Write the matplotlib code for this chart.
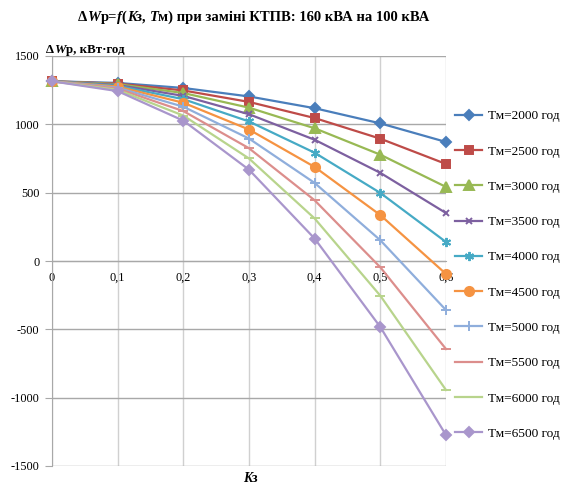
import matplotlib
matplotlib.use("Agg")
import matplotlib.pyplot as plt
from matplotlib.ticker import FixedLocator

# Load factor values and annual energy-loss difference for each Tm
kz = [0.0, 0.1, 0.2, 0.3, 0.4, 0.5, 0.6]
kz_labels = ["0", "0,1", "0,2", "0,3", "0,4", "0,5", "0,6"]

tm_2000 = [1315, 1303, 1266, 1204, 1118, 1007, 871]
tm_2500 = [1315, 1298, 1248, 1164, 1046, 895, 710]
tm_3000 = [1315, 1294, 1229, 1122, 971, 778, 542]
tm_3500 = [1315, 1288, 1208, 1074, 887, 645, 351]
tm_4000 = [1315, 1282, 1184, 1021, 792, 498, 139]
tm_4500 = [1315, 1276, 1158, 962, 688, 336, -95]
tm_5000 = [1315, 1268, 1129, 896, 571, 152, -359]
tm_5500 = [1315, 1261, 1097, 825, 444, -46, -644]
tm_6000 = [1315, 1252, 1064, 750, 311, -254, -944]
tm_6500 = [1315, 1243, 1027, 668, 164, -483, -1274]

series = [tm_2000, tm_2500, tm_3000, tm_3500, tm_4000,
          tm_4500, tm_5000, tm_5500, tm_6000, tm_6500]
labels = ["Тм=2000 год", "Тм=2500 год", "Тм=3000 год", "Тм=3500 год",
          "Тм=4000 год", "Тм=4500 год", "Тм=5000 год", "Тм=5500 год",
          "Тм=6000 год", "Тм=6500 год"]

colors = ["#4A7EBB", "#BE4B48", "#98B954", "#7D60A0", "#46AAC5",
          "#F59342", "#8FAEDC", "#DC8E8C", "#B8D48C", "#A996CC"]
markers = ["D", "s", "^", "x", (6, 2, 0), "o", "+", "_", "_", "D"]
msizes = [4.8, 6.2, 6.6, 4.8, 6.6, 6.6, 6.6, 6.6, 6.6, 5.2]

SERIF = "Liberation Serif"
plt.rcParams["font.family"] = SERIF

W, H = 565, 486
fig = plt.figure(figsize=(W / 100, H / 100), dpi=100)
ax = fig.add_axes([52 / W, 1 - 466 / H, (446 - 52) / W, (466 - 56) / H])

for vals, lab, c, m, ms in zip(series, labels, colors, markers, msizes):
    ax.plot(kz, vals, color=c, lw=1.6, marker=m, markersize=ms,
            markeredgecolor=c, markerfacecolor=c, markeredgewidth=1.4,
            label=lab, clip_on=False, zorder=3)

ax.set_xlim(0, 0.6)
ax.set_ylim(-1500, 1500)
ax.xaxis.set_major_locator(FixedLocator(kz))
ax.set_xticklabels(kz_labels)
ax.yaxis.set_major_locator(FixedLocator(range(-1500, 1501, 500)))
ax.set_yticklabels([str(v) for v in range(-1500, 1501, 500)])

ax.grid(axis="y", color="#A8A8A8", lw=1.0)
ax.grid(axis="x", color="#D0D0D0", lw=1.0)
ax.set_axisbelow(True)

for side in ("top", "right"):
    ax.spines[side].set_visible(False)
ax.spines["bottom"].set_position(("data", 0))
ax.spines["bottom"].set_color("#A8A8A8")
ax.spines["left"].set_color("#A8A8A8")
ax.tick_params(axis="x", length=0, pad=8, labelsize=8.8)
ax.tick_params(axis="y", length=5, color="#A8A8A8", pad=4, labelsize=8.8)

leg = ax.legend(loc="center left", bbox_to_anchor=(1.01, 0.466),
                frameon=False, fontsize=9.6, handlelength=2.0,
                labelspacing=1.72, handletextpad=0.45, borderaxespad=0)

renderer = fig.canvas.get_renderer()


def rich(x, y, pieces, size, center=False):
    """Draw consecutive text runs with mixed styles on one baseline."""
    texts = []
    for s, style, weight in pieces:
        t = fig.text(0, 0, s, fontsize=size, fontstyle=style,
                     fontweight=weight, family=SERIF, va="baseline")
        texts.append(t)
    widths = [t.get_window_extent(renderer).width for t in texts]
    x0 = x - sum(widths) / 2 if center else x
    for t, w in zip(texts, widths):
        t.set_position((x0 / W, 1 - y / H))
        x0 += w


rich(254, 21, [("Δ", "normal", "bold"), ("W", "italic", "bold"),
               ("р=", "normal", "bold"), ("f", "italic", "bold"),
               ("(", "normal", "bold"), ("K", "italic", "bold"),
               ("з, ", "normal", "bold"), ("T", "italic", "bold"),
               ("м) при заміні КТПВ: 160 кВА на 100 кВА", "normal", "bold")],
     10.5, center=True)

rich(46, 53, [("Δ", "normal", "bold"), ("W", "italic", "bold"),
              ("р, кВт·год", "normal", "bold")], 9.3)

rich(250, 482, [("K", "italic", "bold"), ("з", "normal", "bold")],
     9.8, center=True)

fig.savefig("out.png", dpi=100)
